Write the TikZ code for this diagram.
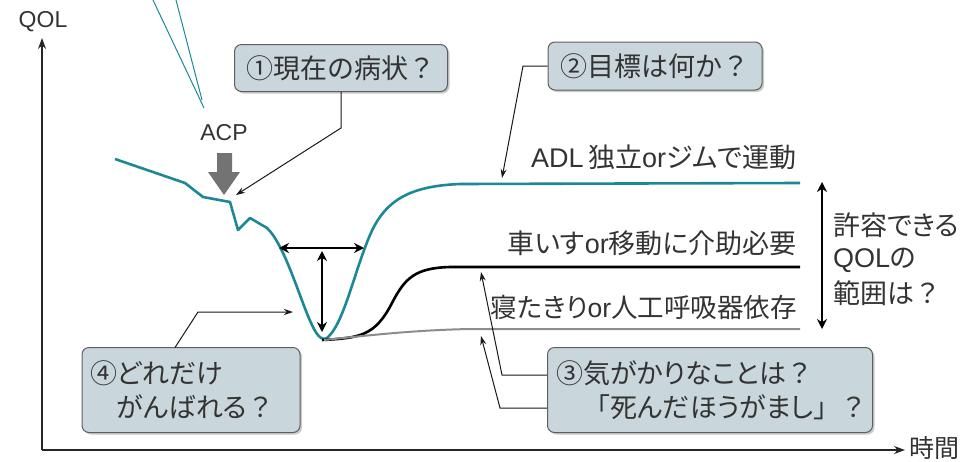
\documentclass[tikz,border=0pt]{standalone}
\usepackage{fontspec}
\setmainfont{Noto Sans CJK JP}[RawFeature=+palt]
\newfontfamily\jfw{Noto Sans CJK JP}
\newfontfamily\lat{Liberation Sans}
\newcommand{\fq}{{\jfw ？}}
\usetikzlibrary{arrows.meta,shadows}
\definecolor{teal1}{RGB}{28,136,150}
\definecolor{boxfill}{RGB}{201,214,219}
\definecolor{boxline}{RGB}{95,95,95}
\definecolor{acpgray}{RGB}{115,115,115}
\tikzset{
  qbox/.style={draw=boxline, line width=1pt, fill=boxfill, rounded corners=7pt,
    drop shadow={shadow xshift=2pt, shadow yshift=-2pt, fill=black!35, opacity=0.6},
    font=\fontsize{27}{34}\selectfont, text=black!80},
  lbl/.style={font=\fontsize{27}{33}\selectfont, text=black!80, inner sep=0pt},
  conn/.style={line width=1pt, black!90, -{Stealth[length=9pt,width=6pt]}},
  dbl/.style={line width=2.2pt, {Stealth[length=10pt,width=10pt]}-{Stealth[length=10pt,width=10pt]}},
}
\begin{document}
\begin{tikzpicture}[x=1pt,y=-1pt]
\useasboundingbox (0,0) rectangle (979,461);
% axes
\coordinate (o) at (42,450);
\coordinate (ytop) at (42,38);
\coordinate (xend) at (905,450);
\draw[line width=1.1pt, black!85, -{Stealth[length=11pt,width=8pt]}] (o) -- (ytop);
\draw[line width=1.1pt, black!85, -{Stealth[length=11pt,width=8pt]}] (o) -- (xend);
\node[lbl, font=\lat\fontsize{23}{26}\selectfont] (qol) at (43,22) {QOL};
\node[lbl, anchor=west, font=\fontsize{25}{28}\selectfont] (time) at (909,448) {時間};
% teal pointer lines at top
\coordinate (p1) at (153,0);
\coordinate (p2) at (176,0);
\coordinate (p3) at (204,108);
\coordinate (p4) at (202,100);
\draw[teal1, line width=1pt] (p1) -- (p3);
\draw[teal1, line width=1pt] (p2) -- (p4);
% ACP
\node[lbl, font=\lat\fontsize{23}{26}\selectfont] (acp) at (224,133) {ACP};
\fill[acpgray] (217,153) -- (232,153) -- (232,172) -- (240,172) -- (224,195) -- (208,172) -- (217,172) -- cycle;
% curves
\draw[teal1, line width=2.6pt, line join=round]
  (115,159) -- (185,183) -- (203,197) -- (230,202) -- (238,230) -- (250,218) -- (267,228)
  .. controls (285,245) and (300,300) .. (312,325)
  .. controls (318,338) and (324,343) .. (330,335)
  .. controls (345,318) and (355,270) .. (370,235)
  .. controls (385,200) and (410,186) .. (460,184)
  -- (800,183);
\draw[black, line width=2.6pt]
  (322,340) .. controls (360,338) and (375,336) .. (392,303)
  .. controls (405,278) and (415,268) .. (450,267) -- (800,267);
\draw[black!45, line width=2pt]
  (324,340) .. controls (380,334) and (420,330) .. (470,329) -- (800,329);
% double arrows
\coordinate (h1) at (279,248);
\coordinate (h2) at (364,248);
\coordinate (v1) at (322,251);
\coordinate (v2) at (322,332);
\draw[dbl] (h1) -- (h2);
\draw[dbl] (v1) -- (v2);
\coordinate (r1) at (822,182);
\coordinate (r2) at (822,329);
\draw[dbl, line width=1.8pt] (r1) -- (r2);
% right labels
\node[lbl, anchor=west] (range1) at (833,225) {許容できる};
\node[lbl, anchor=west] (range2) at (833,260) {{\lat QOL}の};
\node[lbl, anchor=west] (range3) at (833,293) {範囲は\fq};
% line labels
\node[lbl, anchor=east] (adl) at (797,157) {{\lat ADL}\,独立{\lat or}ジムで運動};
\node[lbl, anchor=east] (wc) at (797,243) {車いす{\lat or}移動に介助必要};
\node[lbl, anchor=east, font=\fontsize{26.5}{33}\selectfont] (bed) at (797,307) {寝たきり{\lat or}人工呼吸器依存};
% boxes
\node[qbox, minimum width=213pt, minimum height=47pt, inner sep=0pt] (b1) at (341,68) {{\jfw ①}現在の病状\fq};
\node[qbox, minimum width=214pt, minimum height=48pt, inner sep=0pt] (b2) at (655,66) {{\jfw ②}目標は何か\fq};
\node[qbox, minimum width=325pt, minimum height=85pt, inner xsep=9pt, inner ysep=0pt,
  text width=307pt, align=left] (b3) at (710,390) {{\jfw ③}気がかりなことは\fq\\\phantom{\jfw ③}{\jfw 「}死んだほうがまし{\jfw 」}\fq};
\node[qbox, minimum width=218pt, minimum height=85pt, inner xsep=8pt, inner ysep=0pt,
  text width=202pt, align=left] (b4) at (191,390) {{\jfw ④}どれだけ\\\phantom{\jfw ④}がんばれる\fq};
% connectors
\coordinate (t1) at (236,195);
\draw[conn] (b1.south) -- (341,128) -- (t1);
\coordinate (t2) at (502,178);
\draw[conn] (b2.west) -- (523,66) -- (t2);
\coordinate (t3a) at (481,272);
\coordinate (t3b) at (481,336);
\draw[conn] ([yshift=15pt]b3.west) -- (502,375) -- (t3a);
\draw[conn] ([yshift=-18pt]b3.west) -- (500,408) -- (t3b);
\coordinate (t4) at (293,312);
\draw[conn] (175,347.5) -- (198,312) -- (t4);
\end{tikzpicture}
\end{document}
